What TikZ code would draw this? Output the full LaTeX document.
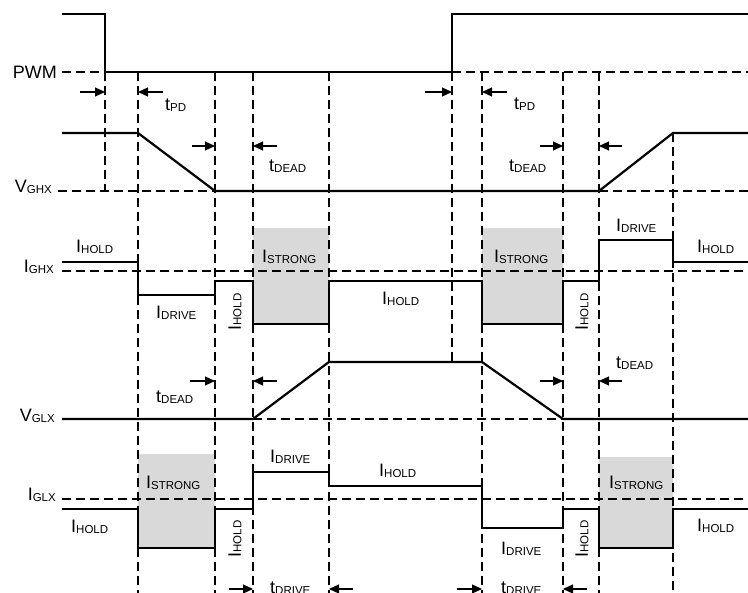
\documentclass[tikz,border=0pt]{standalone}
\usepackage{fontspec}
\setmainfont{Liberation Sans}
\usetikzlibrary{arrows.meta}
\newcommand{\sig}[2]{#1\raisebox{-0.6pt}{\fontsize{11.5}{12}\selectfont #2}}

\begin{document}
\begin{tikzpicture}[x=1pt,y=-1pt,
  every node/.style={font=\fontsize{18}{20}\selectfont,inner sep=0pt},
  wave/.style={line width=2.2pt,line join=miter},
  guide/.style={line width=1.1pt,dash pattern=on 9pt off 5pt},
  arr/.style={line width=1.2pt,-{Triangle[length=10pt,width=9pt]}},
  strong/.style={fill=black!15},
  lbl/.style={anchor=base west},
  signame/.style={anchor=base east},
  vlbl/.style={rotate=90}
]
\useasboundingbox (0,0) rectangle (748,593);

% shaded strong pull-down / pull-up phases
\fill[strong] (253,228) rectangle (329,324);
\fill[strong] (482,228) rectangle (563,324);
\fill[strong] (138,454) rectangle (215,548);
\fill[strong] (599,457) rectangle (673,548);

% timing guides
\foreach \x in {138,215,253,329,482,563,599}
  \draw[guide] (\x,72) -- (\x,593);
\draw[guide] (105,72) -- (105,191);
\draw[guide] (452,72) -- (452,362);
\draw[guide] (673,133) -- (673,593);

% reference levels
\draw[guide] (62,72) -- (105,72);
\draw[guide] (452,72) -- (748,72);
\draw[guide] (58,191) -- (215,191);
\draw[guide] (599,191) -- (748,191);
\draw[guide] (62,271) -- (748,271);
\draw[guide] (253,419) -- (563,419);
\draw[guide] (62,499) -- (748,499);

% signal names
\node[signame] (pwm) at (57,79) {PWM};
\node[signame] (vghx) at (52,193) {\sig{V}{GHX}};
\node[signame] (ighx) at (54,273) {\sig{I}{GHX}};
\node[signame] (vglx) at (55,422) {\sig{V}{GLX}};
\node[signame] (iglx) at (56,501) {\sig{I}{GLX}};

% waveforms
\draw[wave] (62,14) -- (105,14) -- (105,72) -- (452,72) -- (452,14) -- (748,14);
\draw[wave] (62,133) -- (138,133) -- (215,191) -- (599,191) -- (673,133) -- (748,133);
\draw[wave] (62,262) -- (138,262) -- (138,295) -- (215,295) -- (215,281)
  -- (253,281) -- (253,324) -- (329,324) -- (329,281) -- (482,281)
  -- (482,324) -- (563,324) -- (563,281) -- (599,281) -- (599,240)
  -- (673,240) -- (673,262) -- (748,262);
\draw[wave] (62,419) -- (253,419) -- (329,362) -- (482,362) -- (563,419) -- (748,419);
\draw[wave] (62,509) -- (138,509) -- (138,548) -- (215,548) -- (215,509)
  -- (253,509) -- (253,472) -- (329,472) -- (329,486) -- (482,486)
  -- (482,528) -- (563,528) -- (563,509) -- (599,509) -- (599,548)
  -- (673,548) -- (673,509) -- (748,509);

% interval arrows
\draw[arr] (80,92) -- (105,92);
\draw[arr] (163,92) -- (138,92);
\draw[arr] (425,92) -- (452,92);
\draw[arr] (507,92) -- (482,92);
\draw[arr] (192,146) -- (215,146);
\draw[arr] (277,146) -- (253,146);
\draw[arr] (540,146) -- (563,146);
\draw[arr] (622,146) -- (599,146);
\draw[arr] (190,381) -- (215,381);
\draw[arr] (277,381) -- (253,381);
\draw[arr] (540,381) -- (563,381);
\draw[arr] (622,381) -- (599,381);
\draw[arr] (229,589) -- (253,589);
\draw[arr] (353,589) -- (329,589);
\draw[arr] (457,589) -- (482,589);
\draw[arr] (587,589) -- (563,589);

% timing labels
\node[lbl] (tpd1) at (165,111) {\sig{t}{PD}};
\node[lbl] (tdead1) at (269,172) {\sig{t}{DEAD}};
\node[lbl] (tpd2) at (514,110) {\sig{t}{PD}};
\node[lbl] (tdead2) at (509,172) {\sig{t}{DEAD}};
\node[lbl] (tdead3) at (156,403) {\sig{t}{DEAD}};
\node[lbl] (tdead4) at (616,369) {\sig{t}{DEAD}};
\node[lbl] (tdrive1) at (270,594) {\sig{t}{DRIVE}};
\node[lbl] (tdrive2) at (501,594) {\sig{t}{DRIVE}};

% high-side current labels
\node[lbl] (hold1) at (76,253) {\sig{I}{HOLD}};
\node[lbl] (drive1) at (156,319) {\sig{I}{DRIVE}};
\node[lbl] (strong1) at (262,263) {\sig{I}{STRONG}};
\node[lbl] (hold2) at (382,305) {\sig{I}{HOLD}};
\node[lbl] (strong2) at (494,263) {\sig{I}{STRONG}};
\node[lbl] (drive2) at (616,232) {\sig{I}{DRIVE}};
\node[lbl] (hold3) at (697,253) {\sig{I}{HOLD}};
\node[vlbl] (vhold1) at (235,312) {\sig{I}{HOLD}};
\node[vlbl] (vhold2) at (582,312) {\sig{I}{HOLD}};

% low-side current labels
\node[lbl] (hold4) at (71,533) {\sig{I}{HOLD}};
\node[lbl] (strong3) at (146,489) {\sig{I}{STRONG}};
\node[lbl] (drive3) at (270,463) {\sig{I}{DRIVE}};
\node[lbl] (hold5) at (379,477) {\sig{I}{HOLD}};
\node[lbl] (drive4) at (501,555) {\sig{I}{DRIVE}};
\node[lbl] (strong4) at (609,489) {\sig{I}{STRONG}};
\node[lbl] (hold6) at (697,532) {\sig{I}{HOLD}};
\node[vlbl] (vhold3) at (235,539) {\sig{I}{HOLD}};
\node[vlbl] (vhold4) at (582,539) {\sig{I}{HOLD}};
\end{tikzpicture}
\end{document}
